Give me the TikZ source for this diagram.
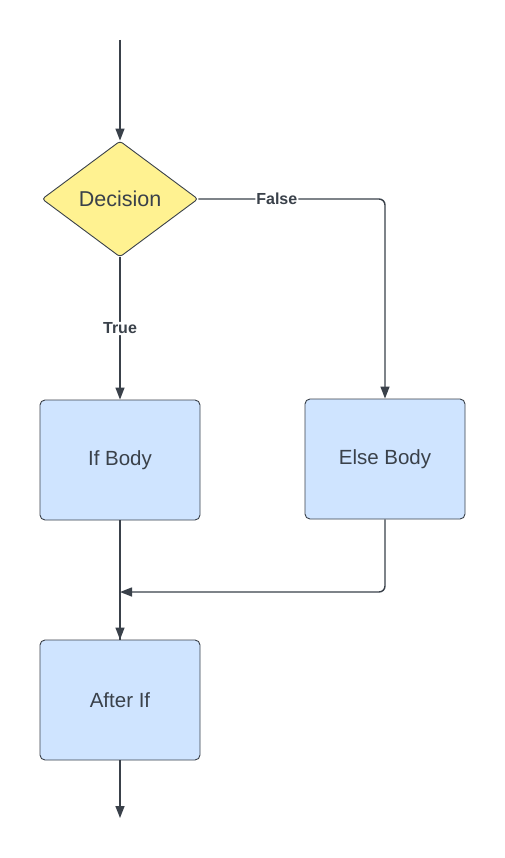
\documentclass[tikz,border=0pt]{standalone}
\usepackage{fontspec}
\setmainfont{Liberation Sans}
\usepackage{xcolor}
\usetikzlibrary{shapes.geometric,arrows.meta}
\definecolor{linegray}{RGB}{58,65,74}
\definecolor{decyellow}{RGB}{255,242,145}
\definecolor{bodyblue}{RGB}{207,228,255}
\tikzset{
    block/.style={draw=linegray,line width=0.9pt,fill=bodyblue,rounded corners=5pt,
        minimum width=160pt,minimum height=120pt,text=linegray,font=\fontsize{20.5}{24}\selectfont},
    decision/.style={diamond,draw=linegray,line width=0.9pt,fill=decyellow,rounded corners=3pt,
        minimum width=156pt,minimum height=116pt,inner sep=0pt,text=linegray,font=\fontsize{21.5}{25}\selectfont},
    flow/.style={draw=linegray,line width=1.4pt,-{Triangle[width=9pt,length=12pt]},rounded corners=6pt},
    tag/.style={fill=white,inner sep=1pt,text=linegray,font=\bfseries\fontsize{16}{18}\selectfont}
}

\begin{document}
\begin{tikzpicture}[x=1pt,y=-1pt]
    \useasboundingbox[fill=white] (0,0) rectangle (505,858);
    % nodes
    \node[decision] (dec) at (120,199) {Decision};
    \node[block] (ifb) at (120,460) {If Body};
    \node[block] (elseb) at (385,459) {Else Body};
    \node[block] (after) at (120,700) {After If};
    \coordinate (start) at (120,40);
    \coordinate (merge) at (120,592);
    \coordinate (stop) at (120,818);
    % connectors
    \draw[flow] (start) -- (dec.north);
    \draw[flow] (dec.south) -- node[tag] {True} (ifb.north);
    \draw[flow] (dec.east) -| node[tag,pos=0.21] {False} (elseb.north);
    \draw[flow,-] (ifb.south) -- (after.north);
    \draw[flow] (elseb.south) |- (merge);
    \draw[flow] (merge) -- (after.north);
    \draw[flow] (after.south) -- (stop);
\end{tikzpicture}
\end{document}
